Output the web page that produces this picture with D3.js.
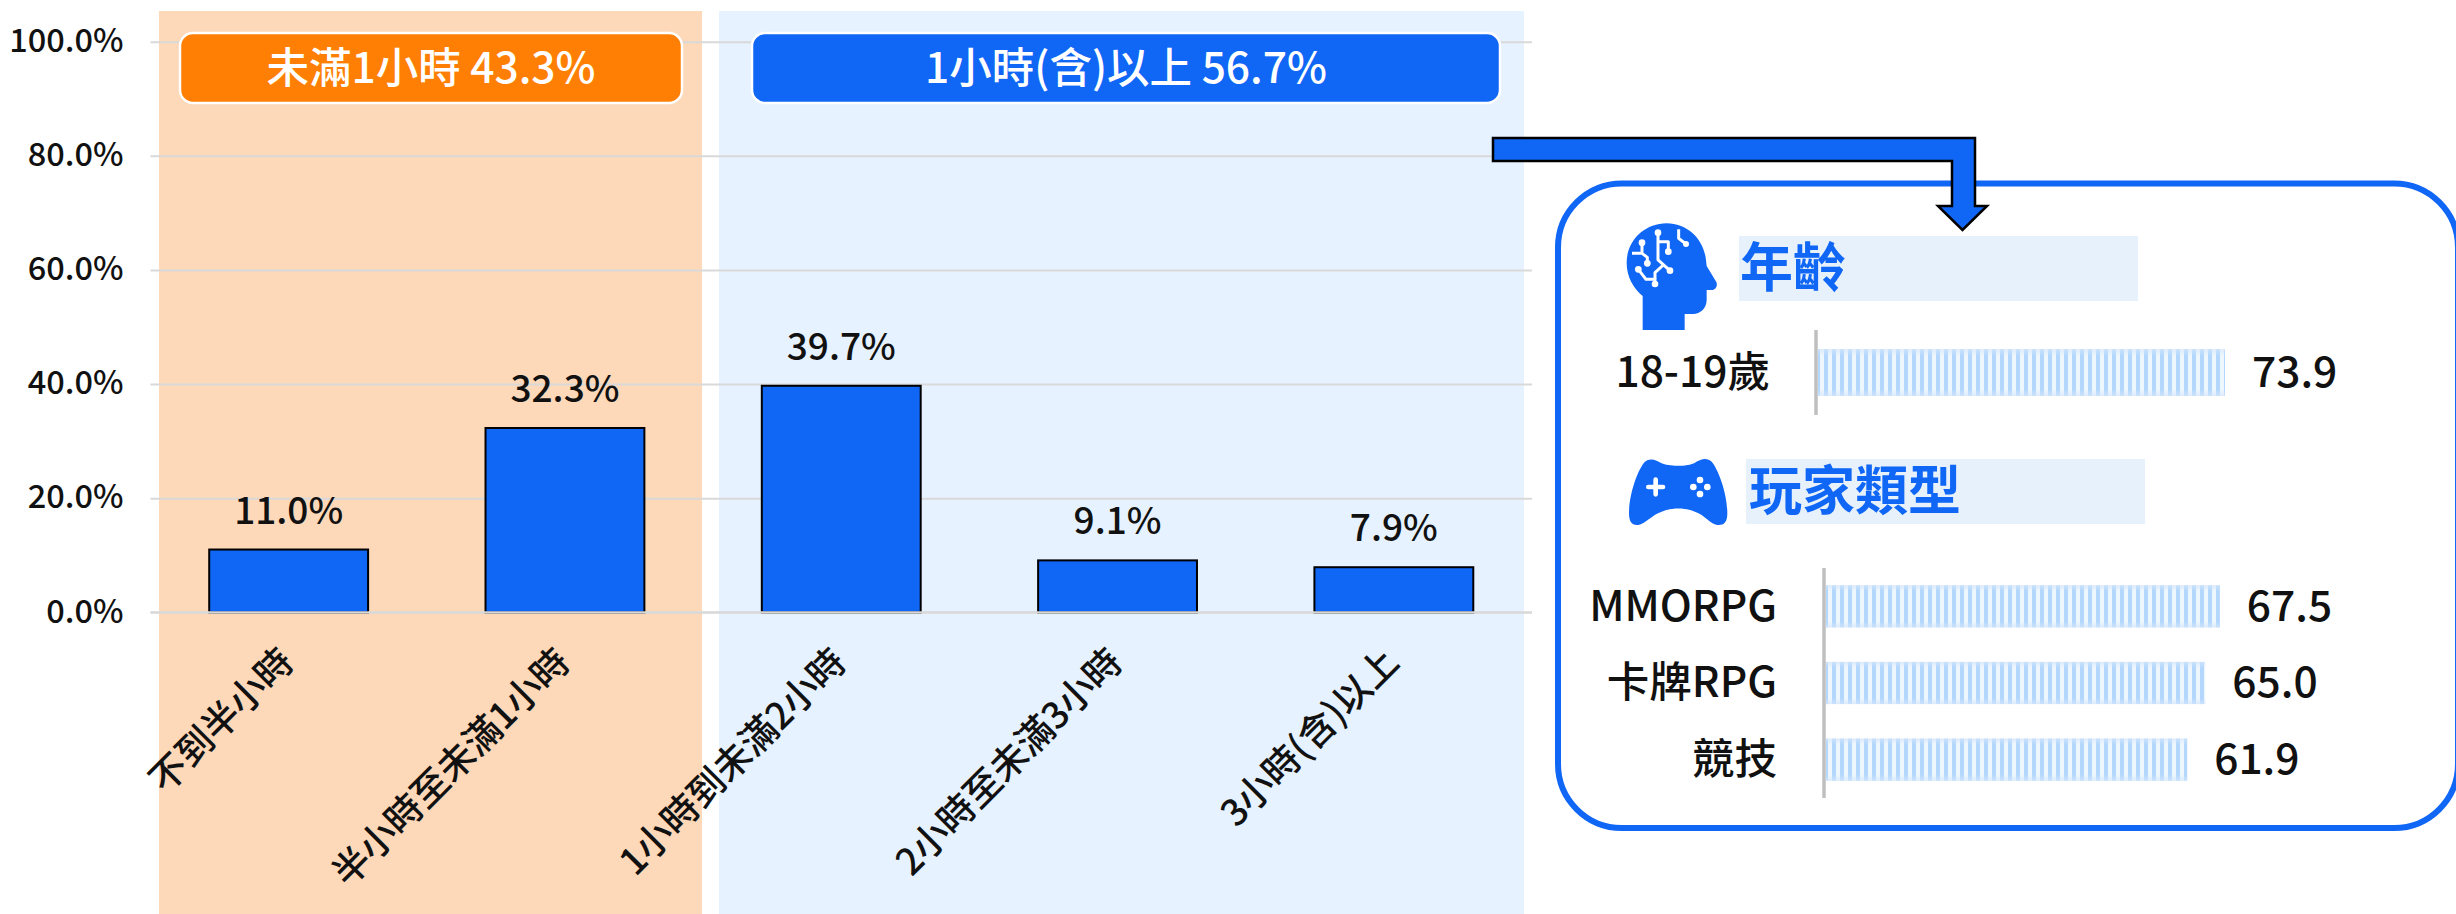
<!DOCTYPE html>
<html>
<head>
<meta charset="utf-8">
<script src="https://cdn.jsdelivr.net/npm/d3@7/dist/d3.min.js"></script>
<style>
html,body{margin:0;padding:0;background:#fff;overflow:hidden}
svg{display:block}
text{font-family:"Noto Sans CJK TC","Noto Sans CJK SC","Noto Sans",sans-serif;font-weight:500}
</style>
</head>
<body>
<div id="chart"></div>
<script>
const categories = ["不到半小時","半小時至未滿1小時","1小時到未滿2小時","2小時至未滿3小時","3小時(含)以上"];
const shares = [11.0,32.3,39.7,9.1,7.9];
const yTicks = [0,20,40,60,80,100];
const groupLabels = ["未滿1小時 43.3%","1小時(含)以上 56.7%"];
const ageLabels = ["18-19歲"];
const ageValues = [73.9];
const playerLabels = ["MMORPG","卡牌RPG","競技"];
const playerValues = [67.5,65.0,61.9];
const titles = ["年齡","玩家類型"];

const BLUE="#1066f5", ORANGE="#ff7f05", INK="#111111";
const svg=d3.select("#chart").append("svg").attr("width",2456).attr("height",914);
const defs=svg.append("defs");

// stripes for the small bars
const pat=defs.append("pattern").attr("id","stripes").attr("patternUnits","userSpaceOnUse")
  .attr("width",8).attr("height",8);
pat.append("rect").attr("width",8).attr("height",8).attr("fill","#eef6fe");
pat.append("rect").attr("width",4).attr("height",8).attr("fill","#b3d7fd");
const grad=defs.append("linearGradient").attr("id","edgeFade").attr("x1",0).attr("y1",0).attr("x2",0).attr("y2",1);
[[0,.75],[.14,.0],[.86,.0],[1,.75]].forEach(([o,a])=>grad.append("stop").attr("offset",o).attr("stop-color","#d4e6fb").attr("stop-opacity",a));

// background bands
svg.append("rect").attr("x",159).attr("y",11).attr("width",543).attr("height",903).attr("fill","#fdd8b9");
svg.append("rect").attr("x",719).attr("y",11).attr("width",805).attr("height",903).attr("fill","#e6f2ff");

const x=d3.scaleBand().domain(categories).range([150.5,1532]).paddingInner(0.425).paddingOuter(0.2125);
const y=d3.scaleLinear().domain([0,100]).range([612.3,41.7]);

// value axis + grid
const gy=svg.append("g").attr("transform","translate(150.5,0)")
  .call(d3.axisLeft(y).tickValues(yTicks).tickSize(-1381.5).tickPadding(27).tickFormat(d=>d.toFixed(1)+"%"));
gy.select(".domain").remove();
gy.selectAll(".tick line").attr("stroke","#d9d9d9").attr("stroke-width",2);
gy.selectAll(".tick text").attr("font-size",32.5).attr("fill",INK).attr("dy","0.3em")
  .style("font-family",'"Noto Sans CJK TC"');

// bars
svg.append("g").selectAll("rect").data(categories).join("rect")
  .attr("x",d=>x(d)).attr("width",x.bandwidth())
  .attr("y",(d,i)=>y(shares[i])).attr("height",(d,i)=>y(0)-y(shares[i]))
  .attr("fill",BLUE).attr("stroke","#000").attr("stroke-width",2);
svg.append("line").attr("x1",150.5).attr("x2",1532).attr("y1",y(0)).attr("y2",y(0)).attr("stroke","#d9d9d9").attr("stroke-width",2);

// value labels
svg.append("g").selectAll("text").data(categories).join("text")
  .attr("x",d=>x(d)+x.bandwidth()/2).attr("y",(d,i)=>y(shares[i])-26)
  .attr("text-anchor","middle").attr("font-size",37).attr("fill",INK)
  .text((d,i)=>shares[i].toFixed(1)+"%");

// category labels
const xAxis=svg.append("g").attr("transform",`translate(0,${y(0)})`).call(d3.axisBottom(x).tickSize(0));
xAxis.select(".domain").remove();
xAxis.selectAll(".tick text")
  .attr("font-size",37).attr("fill",INK).attr("text-anchor","end")
  .attr("transform","translate(-2,43) rotate(-45)").attr("dy","0.35em").attr("y",0).attr("x",0);

// group banners
const banners=[[180,502,ORANGE],[752,748,BLUE]];
banners.forEach(([bx,bw,c],i)=>{
  svg.append("rect").attr("x",bx).attr("y",33).attr("width",bw).attr("height",70).attr("rx",13)
    .attr("fill",c).attr("stroke","#fff").attr("stroke-width",2.5);
  svg.append("text").attr("x",bx+bw/2).attr("y",68).attr("dy","0.36em")
    .attr("text-anchor","middle").attr("font-size",42.5).attr("fill","#fff").text(groupLabels[i]);
});

// panel
svg.append("rect").attr("x",1558).attr("y",183.5).attr("width",900).attr("height",644.5).attr("rx",64)
  .attr("fill","#fff").attr("stroke",BLUE).attr("stroke-width",6);

// arrow
svg.append("path").attr("d","M1493,138 H1975 V206 H1987 L1962.5,230 L1938,206 H1952 V161 H1493 Z")
  .attr("fill",BLUE).attr("stroke","#000").attr("stroke-width",2.5).attr("stroke-linejoin","miter");

// section headers
[[1739,236,1],[1746,459,3]].forEach(([hx,hy,tx],i)=>{
  svg.append("rect").attr("x",hx).attr("y",hy).attr("width",399).attr("height",65).attr("fill","#e6f1fc");
  svg.append("text").attr("x",hx+tx).attr("y",hy+32).attr("dy","0.36em")
    .attr("font-size",53).style("font-weight",700).attr("fill",BLUE).text(titles[i]);
});

// head icon
const head=svg.append("g").attr("transform","translate(1600,210) scale(0.3333)");
head.append("path").attr("fill",BLUE)
  .attr("d","M128,360 L128,258 C100,235 80,200 80,158 C80,92 134,40 200,40 C262,40 312,88 318,150 L320,168 L349,216 C354,228 346,240 336,240 L320,240 L320,270 C320,296 300,312 280,312 L254,312 L254,360 Z");
const wires=head.append("g").attr("fill","none").attr("stroke","#fff").attr("stroke-width",9).attr("stroke-linejoin","round");
["M174,68 V150 L210,182","M174,95 H205 V125","M126,98 V128","M96,130 H126 L142,142 V160","M115,178 L138,208 H165 V222","M165,208 V188 L190,165","M236,58 V85 L258,102"]
  .forEach(d=>wires.append("path").attr("d",d));
[[174,68,10],[205,125,10],[126,98,10],[142,160,10],[210,182,10],[115,178,10],[165,222,10],[258,102,9]]
  .forEach(([cx,cy,r])=>head.append("circle").attr("cx",cx).attr("cy",cy).attr("r",r).attr("fill","#fff"));

// gamepad icon
const pad=svg.append("g").attr("transform","translate(1610,450) scale(0.3333)");
pad.append("path").attr("fill",BLUE)
  .attr("d","M57,190 C57,130 85,55 105,35 C120,22 140,30 155,40 C175,50 235,50 255,38 C270,28 290,20 305,35 C325,58 352,130 352,190 C352,220 340,226 322,225 C300,222 285,195 255,185 C225,172 185,172 155,185 C125,195 105,222 85,225 C65,227 57,215 57,190 Z");
pad.append("path").attr("d","M115,111 H159 M137,89 V133").attr("stroke","#fff").attr("stroke-width",14).attr("stroke-linecap","round");
[[270,90],[250,111],[292,111],[270,132]].forEach(([cx,cy])=>pad.append("circle").attr("cx",cx).attr("cy",cy).attr("r",10).attr("fill","#fff"));

// small bar groups
function smallBars(labels,values,axisX,y0,y1,pxPer100,labelRight,pad0){
  const sy=d3.scaleBand().domain(labels).range([y0,y1]).paddingInner(pad0).paddingOuter(pad0/2);
  const sx=d3.scaleLinear().domain([0,100]).range([axisX+2,axisX+2+pxPer100]);
  const g=svg.append("g");
  g.selectAll("rect.s").data(labels).join("rect").attr("class","s")
    .attr("x",sx(0)).attr("y",d=>sy(d)).attr("height",sy.bandwidth())
    .attr("width",(d,i)=>sx(values[i])-sx(0)).attr("fill","url(#stripes)");
  g.selectAll("rect.f").data(labels).join("rect").attr("class","f")
    .attr("x",sx(0)).attr("y",d=>sy(d)).attr("height",sy.bandwidth())
    .attr("width",(d,i)=>sx(values[i])-sx(0)).attr("fill","url(#edgeFade)");
  g.append("line").attr("x1",axisX).attr("x2",axisX).attr("y1",y0).attr("y2",y1).attr("stroke","#bfbfbf").attr("stroke-width",3.5);
  g.selectAll("text.l").data(labels).join("text").attr("class","l")
    .attr("x",labelRight).attr("y",d=>sy(d)+sy.bandwidth()/2-1).attr("dy","0.36em")
    .attr("text-anchor","end").attr("font-size",42.5).attr("fill",INK).text(d=>d);
  g.selectAll("text.v").data(labels).join("text").attr("class","v")
    .attr("x",(d,i)=>sx(values[i])+27).attr("y",d=>sy(d)+sy.bandwidth()/2-1).attr("dy","0.36em")
    .attr("font-size",42.5).attr("fill",INK).text((d,i)=>values[i].toFixed(1));
}
smallBars(ageLabels,ageValues,1816,330,415,550.7,1770,0.45);
smallBars(playerLabels,playerValues,1824,568,798,583.5,1777,0.45);
</script>
</body>
</html>
